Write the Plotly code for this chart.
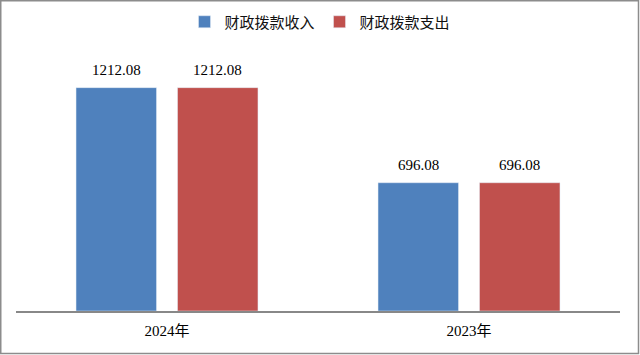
import plotly.graph_objects as go

categories = ["2024年", "2023年"]
income = [1212.08, 696.08]
expense = [1212.08, 696.08]
series_names = ["财政拨款收入", "财政拨款支出"]

W, H = 640, 355
ml, mr, mt, mb = 16, 20, 53, 44

fig = go.Figure()
fig.add_trace(go.Bar(x=categories, y=income, name=series_names[0], marker_color="#4F81BD"))
fig.add_trace(go.Bar(x=categories, y=expense, name=series_names[1], marker_color="#C0504D"))

annotations = []
for vals, shift in ((income, -50.5), (expense, 50.5)):
    for c, v in zip(categories, vals):
        annotations.append(dict(x=c, y=v, xref="x", yref="y", text=f"{v:.2f}",
                                showarrow=False, xshift=shift, yshift=8,
                                yanchor="bottom",
                                font=dict(family="Liberation Serif", size=15, color="#000")))

pw = W - ml - mr
ph = H - mt - mb
fig.update_layout(
    width=W, height=H, autosize=False,
    margin=dict(l=ml, r=mr, t=mt, b=mb, autoexpand=False),
    paper_bgcolor="white", plot_bgcolor="white",
    barmode="group", bargap=0.328, bargroupgap=0.207,
    showlegend=True,
    legend=dict(orientation="h", x=0.5, xanchor="center", xref="container",
                y=1 - 22 / H, yref="container", yanchor="middle",
                font=dict(family="Noto Sans CJK SC", size=15, color="#111"),
                itemwidth=30, tracegroupgap=0),
    xaxis=dict(showline=True, linecolor="#888", linewidth=1.5, ticks="outside",
               ticklen=5, tickcolor="rgba(0,0,0,0)", automargin=False,
               tickfont=dict(family="Liberation Serif, Noto Sans CJK SC", size=15, color="#000"),
               showgrid=False),
    yaxis=dict(range=[0, 1400], visible=False, showgrid=False, automargin=False),
    annotations=annotations,
    shapes=[dict(type="rect", xref="paper", yref="paper",
                 x0=(-ml + 0.75) / pw, x1=(pw + mr - 1.5) / pw,
                 y0=(-mb + 1.5) / ph, y1=(ph + mt - 0.75) / ph,
                 line=dict(color="#8c8c8c", width=1.5))],
)

fig.write_html("out.html", config={"displayModeBar": False},
               post_script="document.body.style.margin='0';document.body.style.overflow='hidden';")
